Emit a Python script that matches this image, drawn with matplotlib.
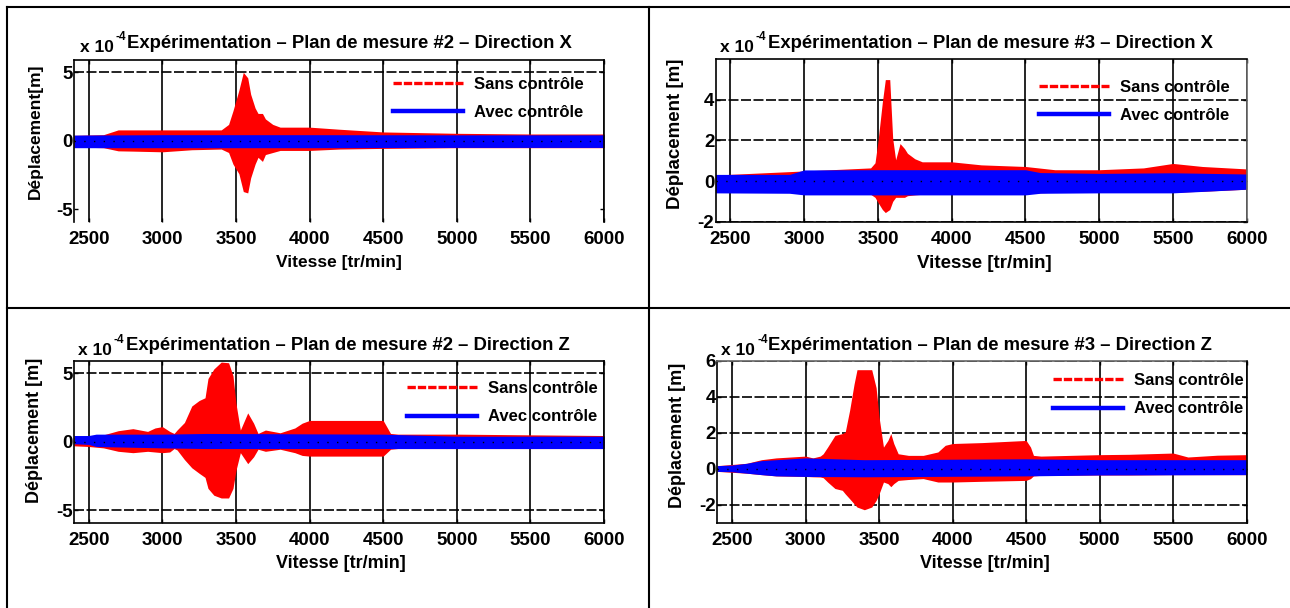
import matplotlib
matplotlib.use('Agg')
import matplotlib.pyplot as plt
from matplotlib.lines import Line2D

plt.rcParams['font.family'] = ['Liberation Sans', 'DejaVu Sans']
plt.rcParams['font.weight'] = 'bold'
plt.rcParams['axes.unicode_minus'] = False

W, H = 1290, 608

# --- Plan #2, direction X (x 1e-4 m) ---
speed_red_2x = [2400, 2600, 2700, 2800, 3000, 3200, 3400, 3450, 3480, 3520, 3550, 3580,
                3600, 3630, 3650, 3680, 3700, 3750, 3800, 4000, 4200, 4500, 5000, 5500, 6000]
red_hi_2x = [0.4, 0.45, 0.8, 0.8, 0.8, 0.8, 0.8, 1.2, 2.2, 3.7, 5.0, 4.6,
             3.4, 2.4, 2.0, 2.0, 1.6, 1.2, 1.0, 1.0, 0.85, 0.65, 0.55, 0.5, 0.5]
red_lo_2x = [-0.45, -0.5, -0.73, -0.75, -0.8, -0.65, -0.6, -0.85, -1.7, -2.4, -3.7, -3.8,
             -2.7, -1.7, -1.2, -1.5, -1.0, -0.85, -0.7, -0.7, -0.6, -0.55, -0.5, -0.5, -0.5]
speed_blue_2x = [2400, 3000, 4000, 5000, 6000]
blue_hi_2x = [0.42, 0.45, 0.45, 0.44, 0.44]
blue_lo_2x = [-0.5, -0.5, -0.5, -0.48, -0.48]

# --- Plan #3, direction X ---
speed_red_3x = [2400, 3300, 3450, 3480, 3500, 3530, 3550, 3580, 3600, 3620, 3650, 3680,
                3700, 3750, 3800, 4000, 4200, 4500, 4700, 5000, 5300, 5500, 5700, 6000]
red_hi_3x = [0.3, 0.6, 0.65, 0.9, 1.95, 3.9, 5.0, 5.0, 2.1, 1.05, 1.85, 1.6,
             1.37, 1.1, 0.95, 0.95, 0.8, 0.72, 0.56, 0.56, 0.65, 0.87, 0.72, 0.6]
red_lo_3x = [-0.5, -0.6, -0.65, -0.8, -1.05, -1.4, -1.55, -1.4, -1.0, -0.8, -0.8, -0.8,
             -0.72, -0.68, -0.65, -0.6, -0.6, -0.6, -0.55, -0.55, -0.55, -0.55, -0.5, -0.4]
speed_blue_3x = [2400, 2900, 3000, 3500, 4500, 4600, 5000, 5500, 6000]
blue_hi_3x = [0.33, 0.33, 0.55, 0.56, 0.56, 0.42, 0.38, 0.41, 0.35]
blue_lo_3x = [-0.58, -0.6, -0.68, -0.68, -0.68, -0.6, -0.58, -0.58, -0.4]

# --- Plan #2, direction Z ---
speed_red_2z = [2400, 2500, 2600, 2700, 2800, 2900, 2950, 3000, 3050, 3080, 3100, 3150,
                3200, 3250, 3290, 3310, 3350, 3400, 3450, 3480, 3500, 3530, 3580, 3620,
                3650, 3700, 3800, 3900, 3950, 4000, 4500, 4550, 4600, 5000, 5500, 6000]
red_hi_2z = [0.3, 0.35, 0.5, 0.8, 0.95, 0.75, 1.0, 1.1, 0.75, 0.6, 0.85, 1.4,
             2.6, 3.0, 3.2, 4.6, 5.3, 5.8, 5.75, 4.8, 2.8, 0.85, 2.1, 1.35,
             0.6, 0.85, 0.65, 1.0, 1.35, 1.55, 1.55, 0.6, 0.55, 0.55, 0.5, 0.45]
red_lo_2z = [-0.3, -0.35, -0.45, -0.7, -0.8, -0.7, -0.75, -0.8, -0.75, -0.5, -0.6, -1.3,
             -1.9, -2.3, -2.6, -3.4, -3.9, -4.1, -4.1, -3.4, -2.1, -0.8, -1.6, -1.1,
             -0.55, -0.7, -0.55, -0.8, -1.0, -1.05, -1.05, -0.55, -0.5, -0.5, -0.5, -0.5]
speed_blue_2z = [2400, 2500, 2550, 3000, 3300, 4500, 5000, 6000]
blue_hi_2z = [0.45, 0.45, 0.55, 0.55, 0.6, 0.55, 0.4, 0.4]
blue_lo_2z = [-0.15, -0.2, -0.35, -0.45, -0.5, -0.5, -0.5, -0.5]

# --- Plan #3, direction Z ---
speed_red_3z = [2400, 2600, 2700, 2800, 3000, 3050, 3100, 3120, 3150, 3200, 3250, 3270,
                3300, 3330, 3350, 3400, 3450, 3480, 3500, 3530, 3560, 3580, 3600, 3630,
                3700, 3800, 3900, 3950, 4000, 4200, 4500, 4530, 4550, 4600, 5000, 5200,
                5500, 5600, 5800, 6000]
red_hi_3z = [0.17, 0.3, 0.5, 0.6, 0.7, 0.6, 0.7, 0.83, 1.2, 1.85, 1.95, 2.04,
             3.25, 4.7, 5.5, 5.5, 5.5, 4.5, 2.87, 1.2, 1.57, 1.95, 1.4, 0.83,
             0.74, 0.74, 0.93, 1.3, 1.4, 1.45, 1.57, 1.2, 0.74, 0.7, 0.78, 0.8,
             0.87, 0.65, 0.75, 0.78]
red_lo_3z = [-0.15, -0.25, -0.33, -0.4, -0.43, -0.45, -0.46, -0.5, -0.74, -1.1, -1.2, -1.4,
             -1.67, -1.95, -2.13, -2.28, -2.13, -1.76, -1.4, -0.74, -0.83, -1.0, -0.83, -0.65,
             -0.6, -0.55, -0.74, -0.74, -0.74, -0.7, -0.65, -0.55, -0.4, -0.37, -0.35, -0.35,
             -0.33, -0.33, -0.33, -0.33]
speed_blue_3z = [2400, 2500, 2600, 2700, 2800, 3000, 3400, 4500, 5000, 6000]
blue_hi_3z = [0.17, 0.2, 0.3, 0.45, 0.5, 0.6, 0.5, 0.55, 0.5, 0.5]
blue_lo_3z = [-0.15, -0.17, -0.25, -0.33, -0.4, -0.43, -0.45, -0.4, -0.35, -0.33]

speed_ticks = [2500, 3000, 3500, 4000, 4500, 5000, 5500, 6000]
labels = ['Sans contrôle', 'Avec contrôle']


def fig_xy(x, y):
    return x / W, 1 - y / H


fig = plt.figure(figsize=(W / 100, H / 100), dpi=100)

# cadre du tableau
for x0, y0, x1, y1 in [(7, 7, W, 7), (7, 308, W, 308), (7, 7, 7, H), (649, 7, 649, H)]:
    fig.add_artist(Line2D([x0 / W, x1 / W], [1 - y0 / H, 1 - y1 / H],
                          color='k', lw=1.5, transform=fig.transFigure))

panels = [
    dict(box=(74, 60, 604, 221.7), red=(speed_red_2x, red_hi_2x, red_lo_2x),
         blue=(speed_blue_2x, blue_hi_2x, blue_lo_2x), ylim=(-5.9, 5.9), yticks=[-5, 0, 5],
         title='Expérimentation – Plan de mesure #2 – Direction X', tx=(80, 127, 52, 48),
         ylabel='Déplacement[m]', yl=(35, 131), xl=(339, 262), leg=(584, 77), lab=12.5),
    dict(box=(715.7, 59.3, 1246.7, 221.7), red=(speed_red_3x, red_hi_3x, red_lo_3x),
         blue=(speed_blue_3x, blue_hi_3x, blue_lo_3x), ylim=(-2, 6), yticks=[-2, 0, 2, 4],
         title='Expérimentation – Plan de mesure #3 – Direction X', tx=(720, 768, 52, 48),
         ylabel='Déplacement [m]', yl=(676, 134), xl=(984, 264), leg=(1230, 80), lab=13.5),
    dict(box=(74, 360.7, 604, 522.7), red=(speed_red_2z, red_hi_2z, red_lo_2z),
         blue=(speed_blue_2z, blue_hi_2z, blue_lo_2z), ylim=(-5.9, 5.9), yticks=[-5, 0, 5],
         title='Expérimentation – Plan de mesure #2 – Direction Z', tx=(78, 126, 355, 350),
         ylabel='Déplacement [m]', yl=(35, 430), xl=(341, 563), leg=(598, 381), lab=13),
    dict(box=(717.3, 360.7, 1246.7, 522.7), red=(speed_red_3z, red_hi_3z, red_lo_3z),
         blue=(speed_blue_3z, blue_hi_3z, blue_lo_3z), ylim=(-3, 6), yticks=[-2, 0, 2, 4, 6],
         title='Expérimentation – Plan de mesure #3 – Direction Z', tx=(721, 768, 355, 350),
         ylabel='Déplacement [m]', yl=(678, 435), xl=(985, 564), leg=(1244, 373), lab=13),
]

for i, p in enumerate(panels):
    x0, y0, x1, y1 = p['box']
    ax = fig.add_axes([x0 / W, 1 - y1 / H, (x1 - x0) / W, (y1 - y0) / H])

    sp, hi, lo = p['red']
    ax.fill_between(sp, lo, hi, color='#ff0000', lw=0)
    sp, hi, lo = p['blue']
    ax.fill_between(sp, lo, hi, color='#0000ff', lw=0)
    ax.axhline(0, color='k', lw=1, dashes=(1, 6))

    ax.set_xlim(2400, 6000)
    ax.set_ylim(*p['ylim'])
    ax.set_xticks(speed_ticks)
    ax.set_yticks(p['yticks'])
    ax.grid(axis='x', color='k', lw=1.2)
    ax.grid(axis='y', color='k', lw=1.2, linestyle=(0, (6, 1.5)))
    ax.set_axisbelow(True)
    ax.tick_params(direction='in', length=3, width=1, top=True, right=True, labelsize=13.5)
    ax.tick_params(axis='x', pad=6.5)
    ax.tick_params(axis='y', pad=1)
    for s in ax.spines.values():
        s.set_linewidth(1.2)

    if i == 0:
        ax.spines['bottom'].set_visible(False)
        ax.get_ygridlines()[0].set_visible(False)
    if i == 1:
        ax.spines['right'].set_color('0.4')
        ax.spines['right'].set_linestyle((0, (1, 1)))
    if i == 3:
        ax.spines['top'].set_color('0.4')
        ax.spines['top'].set_linestyle((0, (1, 1)))

    handles = [Line2D([], [], color='#ff0000', lw=2.4, dashes=(2.5, 0.6)),
               Line2D([], [], color='#0000ff', lw=3.2)]
    lx, ly = p['leg']
    ax.legend(handles, labels, loc='upper right',
              bbox_to_anchor=((lx - x0) / (x1 - x0), (y1 - ly) / (y1 - y0)),
              frameon=False, fontsize=12, handlelength=4.2, handletextpad=0.7,
              labelspacing=0.8, borderpad=0, borderaxespad=0)

    xs, xt, yb_s, yb_t = p['tx']
    fig.text(*fig_xy(xs, yb_s), 'x 10', fontsize=12.5, va='baseline', ha='left')
    fig.text(*fig_xy(xs + 36, yb_s - 12), '-4', fontsize=8.5, va='baseline', ha='left')
    fig.text(*fig_xy(xt, yb_t), p['title'], fontsize=13.3, va='baseline', ha='left')

    fig.text(*fig_xy(*p['yl']), p['ylabel'], fontsize=p['lab'], rotation=90,
             ha='center', va='center')
    fig.text(*fig_xy(*p['xl']), 'Vitesse [tr/min]', fontsize=p['lab'],
             ha='center', va='center')

fig.savefig('out.png', dpi=100)
